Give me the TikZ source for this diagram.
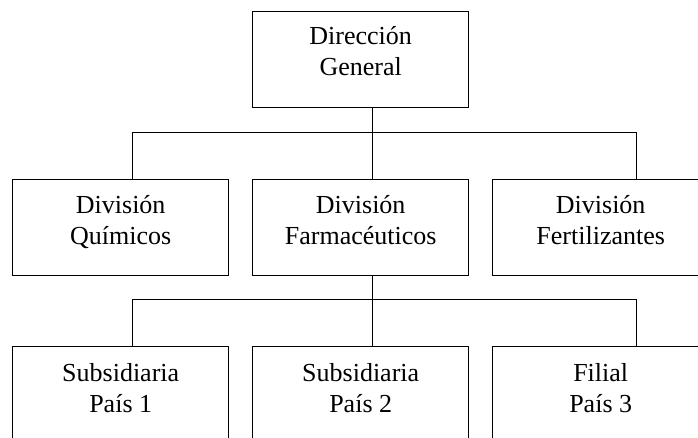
\documentclass[tikz,border=0pt]{standalone}
\usepackage{fontspec}
\setmainfont{Liberation Serif}
\newcommand{\tworows}[2]{\vtop{\baselineskip=31pt\halign{\hfil##\hfil\cr #1\cr #2\cr}}}
\begin{document}
\begin{tikzpicture}[x=1pt,y=1pt,
  box/.style={draw=black,line width=1.4pt,minimum width=216pt,minimum height=96pt,inner sep=0pt,anchor=north west},
  txt/.style={anchor=base,inner sep=0pt,font=\fontsize{26}{31}\selectfont},
  conn/.style={draw=black,line width=1.4pt}]
\useasboundingbox (0,0) rectangle (698,-438);
\clip (0,0) rectangle (698,-438);
% boxes
\node[box] (dg) at (252,-11) {};
\node[box] (dq) at (12,-179) {};
\node[box] (dfa) at (252,-179) {};
\node[box] (dfe) at (492,-179) {};
\node[box] (s1) at (12,-346) {};
\node[box] (s2) at (252,-346) {};
\node[box] (f3) at (492,-346) {};
% texts
\node[txt] (tdg) at ([yshift=-34pt]dg.north) {\tworows{Dirección}{General}};
\node[txt] (tdq) at ([yshift=-35pt]dq.north) {\tworows{División}{Químicos}};
\node[txt] (tdfa) at ([yshift=-35pt]dfa.north) {\tworows{División}{Farmacéuticos}};
\node[txt] (tdfe) at ([yshift=-35pt]dfe.north) {\tworows{División}{Fertilizantes}};
\node[txt] (ts1) at ([yshift=-35pt]s1.north) {\tworows{Subsidiaria}{País 1}};
\node[txt] (ts2) at ([yshift=-35pt]s2.north) {\tworows{Subsidiaria}{País 2}};
\node[txt] (tf3) at ([yshift=-35pt]f3.north) {\tworows{Filial}{País 3}};
% connectors level 1
\draw[conn] ([xshift=12pt]dg.south) -- ++(0,-24) coordinate (j1);
\draw[conn] ([xshift=12pt]dq.north) |- ([xshift=36pt]dfe.north |- j1) -- ([xshift=36pt]dfe.north);
\draw[conn] ([xshift=12pt]dfa.north) -- (j1);
% connectors level 2
\draw[conn] ([xshift=12pt]dfa.south) -- ++(0,-23) coordinate (j2);
\draw[conn] ([xshift=12pt]s1.north) |- ([xshift=36pt]f3.north |- j2) -- ([xshift=36pt]f3.north);
\draw[conn] ([xshift=12pt]s2.north) -- (j2);
\end{tikzpicture}
\end{document}
